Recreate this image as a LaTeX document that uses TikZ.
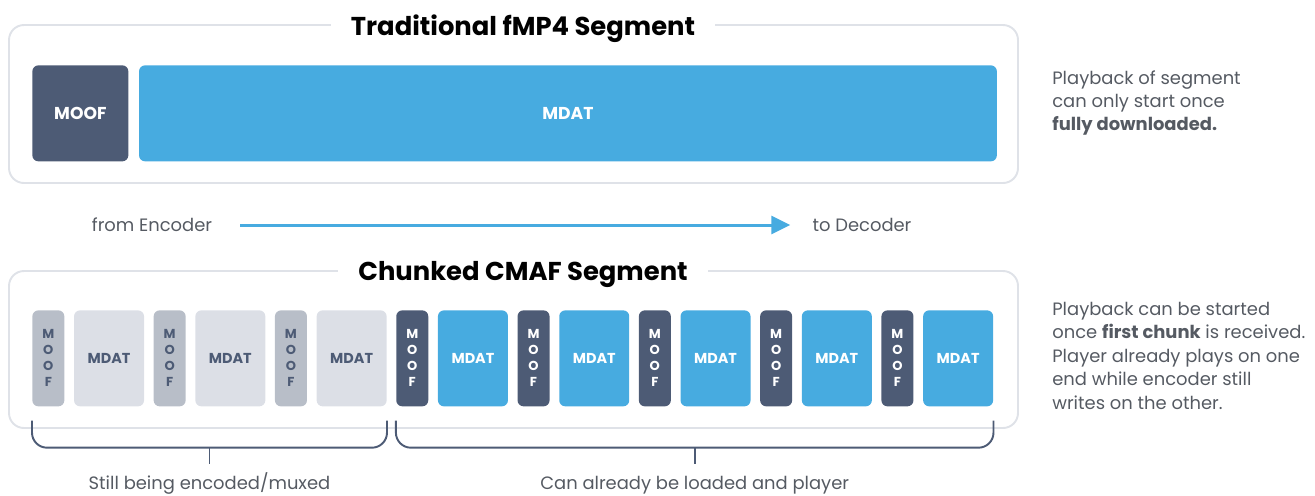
\documentclass[tikz,border=0pt]{standalone}
\usepackage{fontspec}
\setmainfont{Poppins}
\usetikzlibrary{positioning,arrows.meta,calc}

\definecolor{slate}{HTML}{4D5B75}
\definecolor{sky}{HTML}{47ABE0}
\definecolor{fog}{HTML}{DCDFE6}
\definecolor{ash}{HTML}{B8BEC8}
\definecolor{rim}{HTML}{DFE2E8}
\definecolor{ink}{HTML}{555A62}

\begin{document}
\begin{tikzpicture}[x=0.02cm,y=-0.02cm]
\tikzset{myFont/.style={font=\fontsize{10.2}{13.3}\selectfont,text=ink,inner sep=0pt}}
\tikzset{myTitle/.style={font=\fontsize{14.7}{17}\selectfont\bfseries,fill=white,inner xsep=0.4cm,anchor=base}}
\tikzset{myFrame/.style={draw=rim,line width=1.1pt,rounded corners=0.3cm}}
\tikzset{myBox/.style={anchor=north west,rounded corners=0.12cm,inner sep=0pt,minimum height=1.92cm,font=\fontsize{9.8}{12}\selectfont\bfseries}}
\tikzset{myMoof/.style={myBox,minimum width=0.64cm,align=center,font=\fontsize{7.4}{9.1}\selectfont\bfseries}}
\tikzset{myMdat/.style={myBox,minimum width=1.4cm,font=\fontsize{8.2}{10}\selectfont\bfseries}}
\tikzset{myBrace/.style={draw=slate,line width=1.1pt,rounded corners=0.3cm}}

\useasboundingbox (0,0) rectangle (1315,495);

% traditional segment
\draw[myFrame] (9,25) rectangle (1018,183);
\node[myTitle] (title1) at (523,35) {Traditional fMP4 Segment};
\node[myBox,fill=slate,text=white,minimum width=1.92cm] (moof) at (32,65) {MOOF};
\node[myBox,fill=sky,text=white,minimum width=17.16cm,right=0.2cm of moof] (mdat) {MDAT};
\node[myFont,anchor=north west,align=left] (note1) at (1052,70)
  {Playback of segment\\can only start once\\\textbf{fully downloaded.}};

% direction of data
\node[myFont] (enc) at (152,225) {from Encoder};
\node[myFont] (dec) at (862,225) {to Decoder};
\draw[sky,line width=1.7pt,-{Triangle[length=0.38cm,width=0.36cm]}]
  ([xshift=0.56cm]enc.east) -- ([xshift=-0.44cm]dec.west);

% chunked segment
\draw[myFrame] (9,271) rectangle (1018,428);
\node[myTitle] (title2) at (523,280) {Chunked CMAF Segment};
\foreach \i in {0,1,2}{
  \node[myMoof,fill=ash,text=slate] (moof\i) at ({32+121.3*\i},310) {M\\O\\O\\F};
  \node[myMdat,fill=fog,text=slate,right=0.18cm of moof\i] (mdat\i) {MDAT};
}
\foreach \i in {3,...,7}{
  \node[myMoof,fill=slate,text=white] (moof\i) at ({32+121.3*\i},310) {M\\O\\O\\F};
  \node[myMdat,fill=sky,text=white,right=0.18cm of moof\i] (mdat\i) {MDAT};
}
\node[myFont,anchor=north west,align=left] (note2) at (1052,302)
  {Playback can be started\\once \textbf{first chunk} is received.\\Player already plays on one\\end while encoder still\\writes on the other.};

% braces under the chunks
\draw[myBrace] ([yshift=-0.28cm]moof0.south west) |- ([yshift=-0.82cm]mdat2.south east)
  -- ([yshift=-0.28cm]mdat2.south east);
\coordinate (tick1) at ($([yshift=-0.82cm]moof0.south west)!0.5!([yshift=-0.82cm]mdat2.south east)$);
\draw[myBrace] (tick1) -- ++(0,16);
\node[myFont,anchor=base] (lbl1) at ($(tick1)+(0,42)$) {Still being encoded/muxed};

\draw[myBrace] ([yshift=-0.28cm]moof3.south west) |- ([yshift=-0.82cm]mdat7.south east)
  -- ([yshift=-0.28cm]mdat7.south east);
\coordinate (tick2) at ($([yshift=-0.82cm]moof3.south west)!0.5!([yshift=-0.82cm]mdat7.south east)$);
\draw[myBrace] (tick2) -- ++(0,16);
\node[myFont,anchor=base] (lbl2) at ($(tick2)+(0,42)$) {Can already be loaded and player};
\end{tikzpicture}
\end{document}
